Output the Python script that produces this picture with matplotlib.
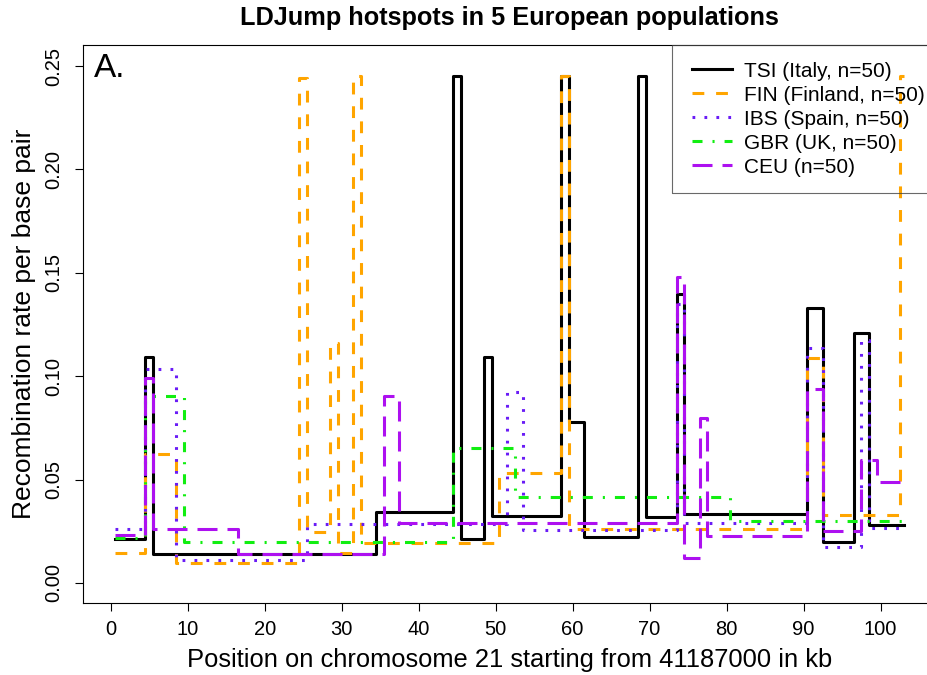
#!/usr/bin/env python3

import matplotlib

matplotlib.use("Agg")
import matplotlib.pyplot as plt
from matplotlib.legend_handler import HandlerLine2D
from matplotlib.lines import Line2D

plt.rcParams["font.family"] = ["Liberation Sans", "DejaVu Sans"]
plt.rcParams["lines.scale_dashes"] = False

# step boundaries (kb) and the rate on each interval
tsi_pos = [0.5, 4.5, 5.5, 34.5, 44.5, 45.5, 48.5, 49.5, 58.5, 59.5, 61.5,
           68.5, 69.5, 73.5, 74.5, 90.5, 92.5, 96.5, 98.5, 103]
tsi_rate = [0.0211, 0.1094, 0.0140, 0.0345, 0.245, 0.0213, 0.1091, 0.0324,
            0.245, 0.0777, 0.0221, 0.245, 0.0318, 0.140, 0.0334, 0.1328,
            0.0197, 0.1207, 0.0280]

fin_pos = [0.5, 4.5, 8.5, 24.5, 25.5, 28.5, 29.5, 31.5, 32.5, 50.5, 58.5,
           59.5, 90.5, 92.5, 102.5, 103]
fin_rate = [0.0147, 0.0625, 0.0095, 0.244, 0.0245, 0.116, 0.0147, 0.245,
            0.0192, 0.0533, 0.245, 0.0263, 0.1087, 0.0327, 0.245]

ibs_pos = [0.5, 4.5, 8.5, 25.5, 51.5, 53.5, 73.5, 74.5, 90.5, 92.5, 97.5,
           98.5, 103]
ibs_rate = [0.0263, 0.1033, 0.0111, 0.0287, 0.0922, 0.0256, 0.135, 0.0289,
            0.1135, 0.0176, 0.1175, 0.0268]

gbr_pos = [0.5, 4.5, 9.5, 44.5, 52.5, 80.5, 103]
gbr_rate = [0.0215, 0.0904, 0.0198, 0.0651, 0.0417, 0.0300]

ceu_pos = [0.5, 4.5, 5.5, 16.5, 35.5, 37.5, 73.5, 74.5, 76.5, 77.5, 90.5,
           92.5, 97.5, 99.5, 103]
ceu_rate = [0.0232, 0.099, 0.026, 0.014, 0.0906, 0.0289, 0.1478, 0.0122,
            0.080, 0.0227, 0.094, 0.0253, 0.0595, 0.0487]

labels = ["TSI (Italy, n=50)", "FIN (Finland, n=50)", "IBS (Spain, n=50)",
          "GBR (UK, n=50)", "CEU (n=50)"]
colors = ["black", "#ffa500", "#6a1cf6", "#11ee11", "#ad10f0"]
dashes = [None, (8.5, 8.5), (2.0, 6.6), (7.2, 7.2, 1.5, 7.2), (14.4, 7.2)]

xticks = list(range(0, 101, 10))
yticks = [0.0, 0.05, 0.10, 0.15, 0.20, 0.25]


def main():
    fig = plt.figure(figsize=(9.27, 6.75), dpi=100)
    # plot box runs past the right edge of the picture, as in the original
    ax = fig.add_axes([83 / 927, 72 / 675, 853 / 927, 558 / 675])

    series = [(tsi_pos, tsi_rate), (fin_pos, fin_rate), (ibs_pos, ibs_rate),
              (gbr_pos, gbr_rate), (ceu_pos, ceu_rate)]
    handles = []
    for (pos, rate), lab, col, ds in zip(series, labels, colors, dashes):
        ys = list(rate) + [rate[-1]]
        line, = ax.step(pos, ys, where="post", color=col, lw=2.2, label=lab)
        if ds is not None:
            line.set_dashes(ds)
        handles.append(line)

    ax.set_xlim(-3.6, 107.2)
    ax.set_ylim(-0.0097, 0.2602)
    ax.set_xticks(xticks)
    ax.set_yticks(yticks)
    ax.set_yticklabels(["%.2f" % v for v in yticks], rotation=90, va="center")
    ax.tick_params(axis="both", direction="out", length=6, width=0.8,
                   labelsize=14.5)
    ax.tick_params(axis="x", pad=6)
    ax.tick_params(axis="y", pad=8)
    for sp in ax.spines.values():
        sp.set_linewidth(0.8)

    ax.set_xlabel("Position on chromosome 21 starting from 41187000 in kb",
                  fontsize=18.4, va="center")
    ax.xaxis.set_label_coords(0.5, -0.102)
    ax.set_ylabel("Recombination rate per base pair", fontsize=19, va="center")
    ax.yaxis.set_label_coords(-0.069, 0.5)
    fig.text(509 / 927, 1 - 18 / 675, "LDJump hotspots in 5 European populations",
             ha="center", va="center", fontsize=18.2, fontweight="bold")
    ax.text(0.013, 0.985, "A.", transform=ax.transAxes, ha="left", va="top",
            fontsize=24)

    leg = ax.legend(handles=handles, loc="upper right", fontsize=15,
                    bbox_to_anchor=(1.006, 1.0), borderaxespad=0,
                    borderpad=0.8, labelspacing=0.24, handlelength=2.04,
                    handletextpad=0.58, fancybox=False, frameon=True,
                    edgecolor="#444444",
                    handler_map={Line2D: HandlerLine2D(xpad=0.12)})
    leg.get_frame().set_facecolor("none")
    leg.get_frame().set_linewidth(0.8)

    fig.savefig("out.png", dpi=100)
    plt.close(fig)


if __name__ == "__main__":
    main()
